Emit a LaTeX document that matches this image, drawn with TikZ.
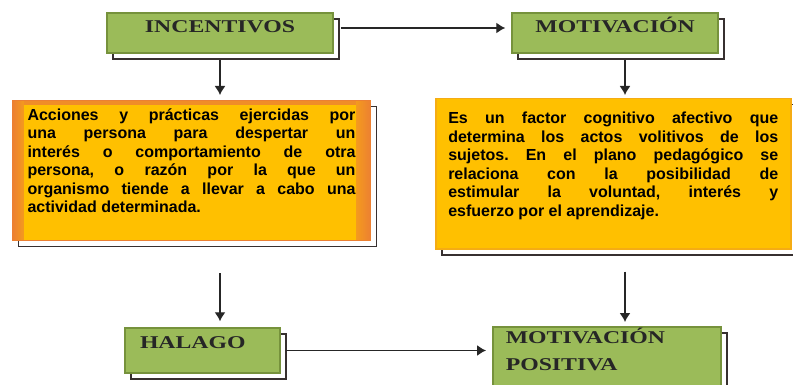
\documentclass[tikz,border=0pt]{standalone}
\usepackage{fontspec}
\setmainfont{Liberation Sans}
\newfontfamily\titlefont{Liberation Serif}[FakeStretch=1.32]
\usetikzlibrary{arrows.meta,shadows}

\definecolor{greenfill}{RGB}{155,187,89}
\definecolor{greenedge}{RGB}{118,146,60}
\definecolor{orangein}{RGB}{255,192,0}
\definecolor{orangeedge}{RGB}{236,128,50}
\definecolor{orangeside}{RGB}{245,172,20}
\definecolor{shadowline}{RGB}{55,48,48}

\tikzset{
  boxshadow/.style={drop shadow={fill=white, draw=shadowline, line width=1.5pt,
      opacity=1, shadow xshift=6pt, shadow yshift=-6pt}},
  greenbox/.style={draw=greenedge, line width=1.5pt, fill=greenfill, boxshadow,
      font=\titlefont\bfseries\fontsize{18}{27}\selectfont, text=black!85},
  orangebox/.style={fill=orangein, boxshadow, align=justify,
      font=\bfseries\fontsize{16}{18.5}\selectfont, text=black},
  conn/.style={->, line width=1.2pt, black!85}
}

\begin{document}
\frenchspacing
\begin{tikzpicture}[x=1pt, y=-1pt, >={Latex[length=9pt,width=11pt]}]
    \useasboundingbox (0,0) rectangle (793,385);

    % top row
    \node[greenbox, minimum width=226pt, minimum height=40pt, inner sep=0pt,
          text height=12pt, text depth=12pt] (inc) at (220,33) {INCENTIVOS};
    \node[greenbox, minimum width=206pt, minimum height=40pt, inner sep=0pt,
          text height=12pt, text depth=12pt] (mot) at (615,33) {MOTIVACIÓN};

    % definitions
    \node[orangebox, draw=orangeedge, line width=1pt, anchor=north west,
          text width=328pt, inner xsep=15pt, inner ysep=8pt,
          text height=12pt, text depth=112pt,
          path picture={
            \fill[orangeedge!80!orangein]
              (path picture bounding box.north west) rectangle
              ([yshift=-5pt]path picture bounding box.north east);
            \fill[left color=orangeedge, right color=orangeedge!60!orangein]
              (path picture bounding box.north west) rectangle
              ([xshift=11pt]path picture bounding box.south west);
            \fill[left color=orangeedge!60!orangein, right color=orangeedge]
              ([xshift=-14pt]path picture bounding box.north east) rectangle
              (path picture bounding box.south east);
          }] (accion) at (12,100)
      {\tolerance=10000
       Acciones y prácticas ejercidas por\linebreak
       una persona para despertar un\linebreak
       interés o comportamiento de otra\linebreak
       persona, o razón por la que un\linebreak
       organismo tiende a llevar a cabo una\linebreak
       actividad determinada.};
    \node[orangebox, draw=orangeside, line width=1.5pt, anchor=north west,
          text width=330pt, inner xsep=12.5pt, inner ysep=13pt,
          text height=12pt, text depth=112pt] (factor) at (435,98)
      {\tolerance=10000
       Es un factor cognitivo afectivo que\linebreak
       determina los actos volitivos de los\linebreak
       sujetos. En el plano pedagógico se\linebreak
       relaciona con la posibilidad de\linebreak
       estimular la voluntad, interés y\linebreak
       esfuerzo por el aprendizaje.};

    % bottom row
    \node[greenbox, minimum height=45pt, text width=125pt, inner xsep=15pt,
          inner ysep=0pt, align=left, text height=12pt, text depth=17pt]
          (hal) at (202.5,350.5) {HALAGO};
    \node[greenbox, anchor=north west, text width=202pt, inner xsep=13pt,
          inner ysep=5pt, align=left, text height=12pt, text depth=60pt]
          (mpos) at (492,326) {MOTIVACIÓN\\POSITIVA};

    % connectors
    \draw[conn, shorten <=7pt, shorten >=6pt] ([yshift=5pt]inc.east) -- ([yshift=5pt]inc.east -| mot.west);
    \draw[conn, shorten <=6pt, shorten >=5pt] (inc.south) -- (inc.south |- accion.north);
    \draw[conn, shorten <=6pt, shorten >=3pt] ([xshift=10pt]mot.south) -- ([xshift=10pt]mot.south |- factor.north);
    \draw[conn, shorten <=32pt, shorten >=6pt] (accion.south -| inc.south) -- (hal.north -| inc.south);
    \draw[conn, shorten <=22pt, shorten >=4pt] ([xshift=10pt]mot.south |- factor.south) -- ([xshift=10pt]mot.south |- mpos.north);
    \draw[conn, shorten <=5pt, shorten >=6pt] (hal.east) -- (hal.east -| mpos.west);
\end{tikzpicture}
\end{document}
